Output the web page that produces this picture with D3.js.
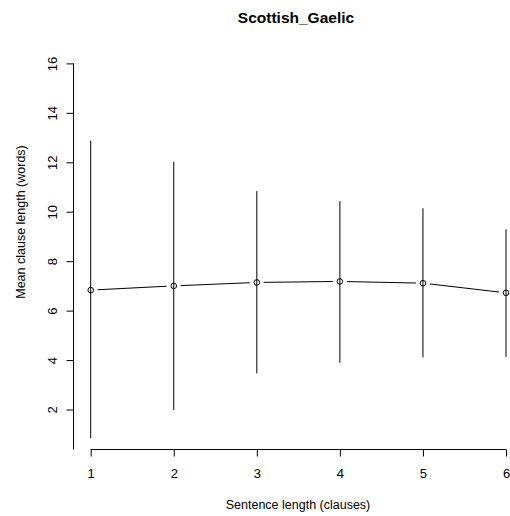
<!DOCTYPE html>
<html>
<head>
<meta charset="utf-8">
<script src="https://cdn.jsdelivr.net/npm/d3@7"></script>
<style>
  body { margin: 0; background: #fff; }
  text { font-family: "Liberation Sans", Arial, sans-serif; fill: #000; }
</style>
</head>
<body>
<svg id="chart" width="510" height="516"></svg>
<script>
'use strict';

// data
const clauses = [1, 2, 3, 4, 5, 6];
const meanLen = [6.83, 7.00, 7.14, 7.18, 7.11, 6.72];
const upper   = [12.87, 12.02, 10.84, 10.43, 10.14, 9.29];
const lower   = [0.84, 1.98, 3.46, 3.89, 4.11, 4.13];
const yTicks  = [2, 4, 6, 8, 10, 12, 14, 16];

const svg = d3.select('#chart');

const x = d3.scaleLinear().domain([1, 6]).range([90.7, 506]);
const y = d3.scaleLinear().domain([2, 16]).range([409.5, 63.4]);
const axisBottom = 449.5;
const axisLeft = 73.5;

// title
svg.append('text')
    .attr('x', 296)
    .attr('y', 23)
    .attr('text-anchor', 'middle')
    .attr('font-size', '15.5px')
    .attr('font-weight', 'bold')
    .text('Scottish_Gaelic');

// y axis
const gy = svg.append('g')
    .attr('transform', 'translate(' + axisLeft + ',0)')
    .call(d3.axisLeft(y).tickValues(yTicks).tickSize(7).tickFormat(d3.format('d')));
gy.select('.domain').remove();
gy.append('line')
    .attr('x1', 0).attr('x2', 0)
    .attr('y1', y(16)).attr('y2', axisBottom)
    .attr('stroke', '#000');
gy.selectAll('.tick text')
    .attr('x', null).attr('dy', null)
    .attr('text-anchor', 'middle')
    .attr('font-size', '13px')
    .attr('font-family', null)
    .attr('transform', 'translate(-17,0) rotate(-90)');

// x axis
const gx = svg.append('g')
    .attr('transform', 'translate(0,' + axisBottom + ')')
    .call(d3.axisBottom(x).tickValues(clauses).tickSize(7).tickFormat(d3.format('d')));
gx.select('.domain')
    .attr('d', 'M' + x(1) + ',0H' + x(6));
gx.selectAll('.tick text')
    .attr('dy', null)
    .attr('y', 28)
    .attr('font-size', '13px')
    .attr('font-family', null);

// axis titles
svg.append('text')
    .attr('x', 298)
    .attr('y', 509)
    .attr('text-anchor', 'middle')
    .attr('font-size', '12.5px')
    .text('Sentence length (clauses)');

svg.append('text')
    .attr('transform', 'translate(25,222) rotate(-90)')
    .attr('text-anchor', 'middle')
    .attr('font-size', '12.5px')
    .text('Mean clause length (words)');

// error bars
svg.append('g').selectAll('line')
    .data(clauses)
    .enter().append('line')
    .attr('x1', (d) => x(d))
    .attr('x2', (d) => x(d))
    .attr('y1', (d, i) => y(upper[i]))
    .attr('y2', (d, i) => y(lower[i]))
    .attr('stroke', '#000')
    .attr('stroke-width', 1);

// connecting segments with gaps round the points (type "b")
const gap = 7;
const segs = d3.pairs(clauses.map((d, i) => [x(d), y(meanLen[i])]));
svg.append('g').selectAll('line')
    .data(segs)
    .enter().append('line')
    .each(function (s) {
        const dx = s[1][0] - s[0][0];
        const dy = s[1][1] - s[0][1];
        const len = Math.sqrt(dx * dx + dy * dy);
        const ux = dx / len, uy = dy / len;
        d3.select(this)
            .attr('x1', s[0][0] + ux * gap)
            .attr('y1', s[0][1] + uy * gap)
            .attr('x2', s[1][0] - ux * gap)
            .attr('y2', s[1][1] - uy * gap);
    })
    .attr('stroke', '#000')
    .attr('stroke-width', 1);

// points
svg.append('g').selectAll('circle')
    .data(clauses)
    .enter().append('circle')
    .attr('cx', (d) => x(d))
    .attr('cy', (d, i) => y(meanLen[i]))
    .attr('r', 2.8)
    .attr('fill', 'none')
    .attr('stroke', '#000')
    .attr('stroke-width', 1);
</script>
</body>
</html>
